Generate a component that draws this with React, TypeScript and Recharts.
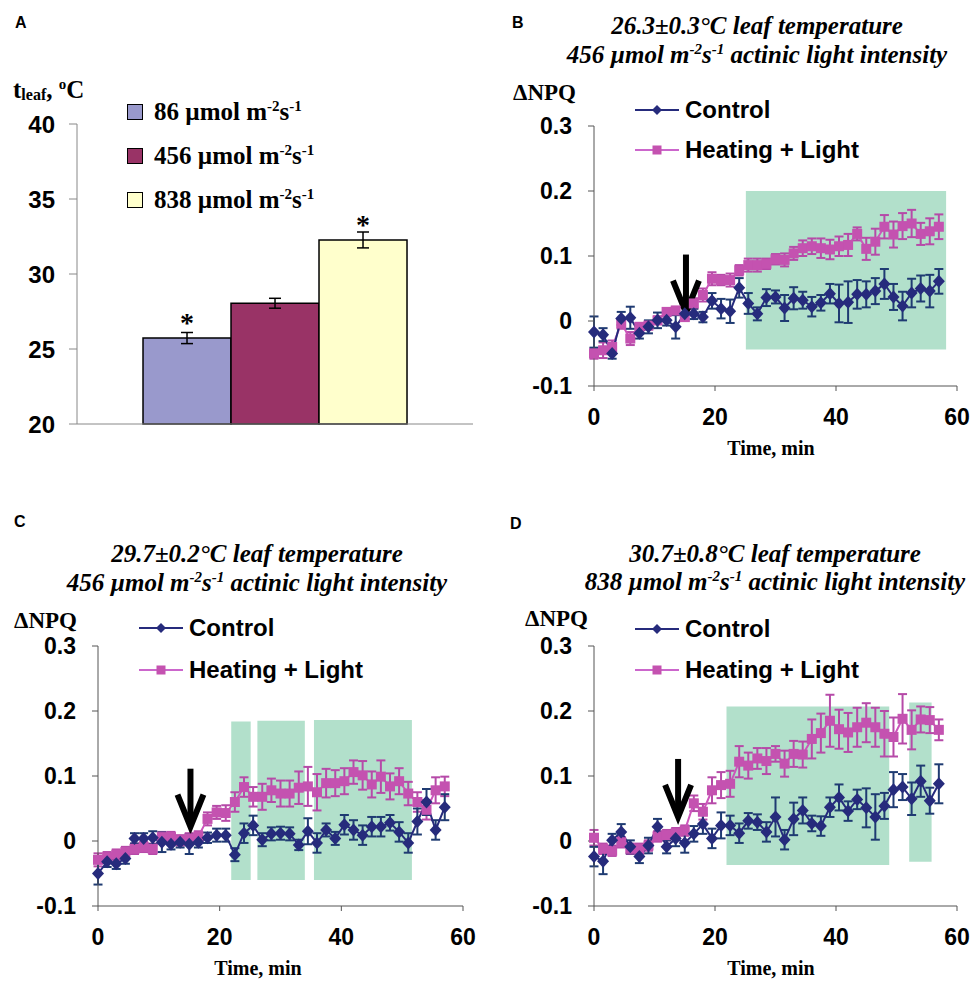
import React from "react";
import {
  BarChart,
  Bar,
  ErrorBar,
  LabelList,
  XAxis,
  YAxis,
  LineChart,
  Line,
  ReferenceArea,
  ReferenceDot,
} from "recharts";

// ---- Panel A: leaf temperature at three light intensities ----
const lightLevels = ["86", "456", "838"];
const leafTemp = [25.73, 28.05, 32.27];
const leafTempErr = [0.37, 0.33, 0.53];
const leafTempMark = ["*", "", "*"];
const tempTicks = [20, 25, 30, 35, 40];

// ---- Panels B-D: ΔNPQ time courses ----
const timeMin = [
  0, 1.5, 3, 4.5, 6, 7.5, 9, 10.5, 12, 13.5, 15, 16.5, 18, 19.5, 21, 22.5, 24, 25.5, 27, 28.5,
  30, 31.5, 33, 34.5, 36, 37.5, 39, 40.5, 42, 43.5, 45, 46.5, 48, 49.5, 51, 52.5, 54, 55.5, 57,
];
const timeTicks = [0, 20, 40, 60];
const npqTicks = [-0.1, 0, 0.1, 0.2, 0.3];

const controlB = [
  -0.017, -0.021, -0.05, 0.004, 0.005, -0.019, -0.009, 0.001, 0.001, -0.009, 0.011, 0.011, 0.006,
  0.031, 0.019, 0.015, 0.051, 0.027, 0.011, 0.036, 0.037, 0.02, 0.035, 0.032, 0.022, 0.028, 0.042,
  0.027, 0.029, 0.041, 0.041, 0.046, 0.057, 0.037, 0.023, 0.043, 0.05, 0.046, 0.061,
];
const controlBErr = [
  0.024, 0.01, 0.008, 0.01, 0.017, 0.008, 0.01, 0.012, 0.008, 0.018, 0.01, 0.008, 0.008, 0.012,
  0.015, 0.018, 0.015, 0.016, 0.01, 0.013, 0.01, 0.02, 0.017, 0.013, 0.015, 0.012, 0.015, 0.029,
  0.032, 0.022, 0.02, 0.02, 0.023, 0.02, 0.022, 0.022, 0.02, 0.025, 0.019,
];
const heatB = [
  -0.05, -0.045, -0.04, -0.004, -0.027, -0.009, -0.007, 0.001, 0.014, 0.016, 0.006, 0.027, 0.04,
  0.065, 0.063, 0.063, 0.078, 0.086, 0.086, 0.088, 0.095, 0.094, 0.104, 0.112, 0.115, 0.112, 0.11,
  0.115, 0.117, 0.134, 0.111, 0.122, 0.145, 0.133, 0.146, 0.15, 0.134, 0.138, 0.145,
];
const heatBErr = [
  0.008, 0.012, 0.01, 0.008, 0.01, 0.006, 0.006, 0.006, 0.006, 0.006, 0.006, 0.008, 0.01, 0.01,
  0.008, 0.01, 0.008, 0.01, 0.01, 0.008, 0.008, 0.01, 0.01, 0.012, 0.012, 0.015, 0.015, 0.015,
  0.017, 0.01, 0.017, 0.02, 0.018, 0.02, 0.02, 0.021, 0.017, 0.02, 0.019,
];

const controlC = [
  -0.05, -0.032, -0.035, -0.027, 0.004, 0.004, 0.005, -0.002, -0.005, -0.002, -0.005, -0.002,
  0.005, 0.009, 0.009, -0.021, 0.012, 0.024, 0.002, 0.011, 0.012, 0.011, -0.006, 0.015, -0.003,
  0.017, 0.004, 0.025, 0.017, 0.009, 0.022, 0.022, 0.028, 0.014, -0.003, 0.03, 0.06, 0.017, 0.052,
];
const controlCErr = [
  0.017, 0.008, 0.008, 0.008, 0.008, 0.008, 0.01, 0.015, 0.008, 0.008, 0.015, 0.008, 0.008, 0.01,
  0.01, 0.01, 0.015, 0.015, 0.01, 0.01, 0.01, 0.01, 0.008, 0.02, 0.015, 0.01, 0.01, 0.015, 0.015,
  0.015, 0.015, 0.015, 0.012, 0.015, 0.015, 0.02, 0.02, 0.015, 0.02,
];
const heatC = [
  -0.029, -0.025, -0.021, -0.017, -0.012, -0.009, -0.012, 0.006, 0.006, 0.001, 0.004, 0.007,
  0.034, 0.044, 0.043, 0.06, 0.083, 0.068, 0.068, 0.078, 0.073, 0.073, 0.082, 0.084, 0.075, 0.089,
  0.089, 0.092, 0.106, 0.101, 0.087, 0.099, 0.084, 0.092, 0.073, 0.06, 0.048, 0.078, 0.084,
];
const heatCErr = [
  0.01, 0.008, 0.008, 0.008, 0.008, 0.008, 0.008, 0.008, 0.008, 0.008, 0.008, 0.008, 0.01, 0.01,
  0.012, 0.015, 0.015, 0.015, 0.02, 0.018, 0.02, 0.02, 0.025, 0.03, 0.028, 0.022, 0.02, 0.02,
  0.018, 0.022, 0.02, 0.025, 0.02, 0.02, 0.018, 0.015, 0.015, 0.02, 0.015,
];

const controlD = [
  -0.024, -0.031, 0.001, 0.014, -0.009, -0.024, -0.007, 0.022, -0.009, 0.004, -0.003, 0.011,
  0.026, 0.004, 0.024, 0.024, 0.012, 0.031, 0.029, 0.014, 0.037, 0.002, 0.034, 0.047, 0.027,
  0.023, 0.052, 0.067, 0.046, 0.064, 0.051, 0.037, 0.054, 0.079, 0.083, 0.065, 0.092, 0.062, 0.088,
];
const controlDErr = [
  0.015, 0.02, 0.01, 0.012, 0.01, 0.01, 0.012, 0.012, 0.01, 0.012, 0.015, 0.012, 0.015, 0.015,
  0.02, 0.015, 0.015, 0.012, 0.012, 0.015, 0.03, 0.015, 0.025, 0.02, 0.012, 0.015, 0.015, 0.02,
  0.015, 0.015, 0.03, 0.035, 0.02, 0.027, 0.02, 0.025, 0.024, 0.02, 0.03,
];
const heatD = [
  0.005, -0.012, -0.015, -0.002, -0.012, -0.012, -0.007, 0.007, 0.009, 0.012, 0.016, 0.058, 0.045,
  0.078, 0.086, 0.088, 0.122, 0.116, 0.127, 0.123, 0.134, 0.119, 0.134, 0.133, 0.157, 0.166,
  0.185, 0.172, 0.167, 0.175, 0.182, 0.175, 0.165, 0.16, 0.188, 0.171, 0.187, 0.186, 0.171,
];
const heatDErr = [
  0.012, 0.008, 0.008, 0.008, 0.008, 0.008, 0.008, 0.008, 0.008, 0.008, 0.008, 0.012, 0.012, 0.02,
  0.02, 0.02, 0.024, 0.02, 0.016, 0.02, 0.012, 0.02, 0.02, 0.02, 0.03, 0.03, 0.04, 0.03, 0.03,
  0.03, 0.03, 0.03, 0.035, 0.03, 0.038, 0.03, 0.02, 0.02, 0.016,
];

// shaded intervals (min) and their ΔNPQ extents
const shadeB = [{ x1: 25.1, x2: 58.2, y1: -0.044, y2: 0.2 }];
const shadeC = [
  { x1: 21.9, x2: 25.1, y1: -0.06, y2: 0.184 },
  { x1: 26.2, x2: 34.0, y1: -0.06, y2: 0.185 },
  { x1: 35.5, x2: 51.6, y1: -0.06, y2: 0.186 },
];
const shadeD = [
  { x1: 21.9, x2: 48.8, y1: -0.037, y2: 0.207 },
  { x1: 52.1, x2: 55.8, y1: -0.032, y2: 0.213 },
];
// arrow: time of heating onset and ΔNPQ at the arrow tip
const arrowB = { t: 15.2, v: 0.013 };
const arrowC = { t: 15.2, v: 0.022 };
const arrowD = { t: 13.9, v: 0.037 };

const SERIF = "'Times New Roman', 'Liberation Serif', serif";
const SANS = "Arial, 'Liberation Sans', sans-serif";
const NAVY = "#262b7c";
const NAVY_ERR = "#1f3b72";
const PINK = "#c452b0";
const PINK_ERR = "#b64aa8";
const GREEN = "#b2e0cb";

function Txt({ x, y, size, family = SANS, italic = false, anchor = "start", children }: any) {
  const tx = anchor === "middle" ? "-50%" : anchor === "end" ? "-100%" : "0";
  return (
    <div
      style={{
        position: "absolute",
        left: x,
        top: y,
        transform: `translate(${tx}, -50%)`,
        fontSize: size,
        fontFamily: family,
        fontWeight: "bold",
        fontStyle: italic ? "italic" : "normal",
        lineHeight: 1,
        whiteSpace: "nowrap",
        color: "#000",
      }}
    >
      {children}
    </div>
  );
}

const Sup = ({ children }: any) => (
  <sup style={{ fontSize: "0.6em", lineHeight: 0, verticalAlign: "0.6em" }}>{children}</sup>
);

const Units = () => (
  <>
    µmol m<Sup>-2</Sup>s<Sup>-1</Sup>
  </>
);

const diamondDot = (p: any) => {
  if (p.cx == null || p.cy == null) return <g key={`d${p.index}`} />;
  return (
    <path
      key={`d${p.index}`}
      d={`M${p.cx},${p.cy - 6.5}L${p.cx + 6},${p.cy}L${p.cx},${p.cy + 6.5}L${p.cx - 6},${p.cy}Z`}
      fill={NAVY}
    />
  );
};

const squareDot = (p: any) => {
  if (p.cx == null || p.cy == null) return <g key={`s${p.index}`} />;
  return <rect key={`s${p.index}`} x={p.cx - 5} y={p.cy - 5} width={10} height={10} fill={PINK} />;
};

const arrowShape = (p: any) => {
  const { cx, cy } = p;
  return (
    <g>
      <line x1={cx} y1={cy - 58} x2={cx} y2={cy - 5} stroke="#000" strokeWidth={6} />
      <polyline
        points={`${cx - 13},${cy - 32} ${cx},${cy} ${cx + 13},${cy - 32}`}
        fill="none"
        stroke="#000"
        strokeWidth={6}
        strokeLinejoin="miter"
      />
    </g>
  );
};

function Legend2({ x, y1, y2 }: any) {
  return (
    <>
      <svg style={{ position: "absolute", left: x, top: y1 - 6 }} width={44} height={12}>
        <line x1={0} y1={6} x2={44} y2={6} stroke={NAVY} strokeWidth={2} />
        <path d="M22,1L27,6L22,11L17,6Z" fill={NAVY} />
      </svg>
      <Txt x={x + 50} y={y1} size={24}>
        Control
      </Txt>
      <svg style={{ position: "absolute", left: x, top: y2 - 6 }} width={44} height={12}>
        <line x1={0} y1={6} x2={44} y2={6} stroke="#cc66cc" strokeWidth={2} />
        <rect x={17.5} y={1.5} width={9} height={9} fill={PINK} />
      </svg>
      <Txt x={x + 50} y={y2} size={24}>
        Heating + Light
      </Txt>
    </>
  );
}

function NpqPanel({ axisX, topY, width, control, controlErr, heat, heatErr, shade, arrow }: any) {
  const data = timeMin.map((t, i) => ({
    t,
    c: control[i],
    ce: controlErr[i],
    h: heat[i],
    he: heatErr[i],
  }));
  const plotH = 260;
  return (
    <div style={{ position: "absolute", left: axisX - 100, top: topY - 30 }}>
      <LineChart
        width={width + 115}
        height={plotH + 90}
        data={data}
        margin={{ top: 30, right: 15, bottom: 0, left: 0 }}
      >
        <XAxis
          type="number"
          dataKey="t"
          domain={[0, 60]}
          ticks={timeTicks}
          interval={0}
          height={60}
          axisLine={{ stroke: "#555" }}
          tickLine={{ stroke: "#555" }}
          tickSize={5}
          tickMargin={18}
          tick={{ fill: "#000", fontSize: 23, fontWeight: "bold", fontFamily: SANS }}
        />
        <YAxis
          type="number"
          domain={[-0.1, 0.3]}
          ticks={npqTicks}
          interval={0}
          width={100}
          axisLine={{ stroke: "#555" }}
          tickLine={{ stroke: "#555" }}
          tickSize={6}
          tickMargin={16}
          tickFormatter={(v: number) => (v === 0 ? "0" : String(v))}
          tick={{ fill: "#000", fontSize: 23, fontWeight: "bold", fontFamily: SANS }}
        />
        {shade.map((s: any, i: number) => (
          <ReferenceArea
            key={i}
            x1={s.x1}
            x2={s.x2}
            y1={s.y1}
            y2={s.y2}
            fill={GREEN}
            fillOpacity={1}
            stroke="none"
          />
        ))}
        <Line
          dataKey="h"
          stroke="#cc55bb"
          strokeWidth={2}
          dot={squareDot}
          activeDot={false}
          isAnimationActive={false}
        >
          <ErrorBar dataKey="he" direction="y" width={4.5} stroke={PINK_ERR} strokeWidth={2} />
        </Line>
        <Line
          dataKey="c"
          stroke={NAVY}
          strokeWidth={2}
          dot={diamondDot}
          activeDot={false}
          isAnimationActive={false}
        >
          <ErrorBar dataKey="ce" direction="y" width={4.5} stroke={NAVY_ERR} strokeWidth={2} />
        </Line>
        <ReferenceDot x={arrow.t} y={arrow.v} shape={arrowShape} />
      </LineChart>
    </div>
  );
}

const barColors = ["#9999cc", "#993366", "#ffffcc"];

export default function App() {
  const barRow: any = { name: "" };
  lightLevels.forEach((lvl, i) => {
    barRow[`t${lvl}`] = leafTemp[i];
    barRow[`e${lvl}`] = leafTempErr[i];
    barRow[`m${lvl}`] = leafTempMark[i];
  });

  return (
    <div style={{ position: "absolute", left: 0, top: 0, width: 971, height: 986, background: "#fff" }}>
      {/* Panel A */}
      <div style={{ position: "absolute", left: 0, top: 0 }}>
        <BarChart
          width={480}
          height={480}
          data={[barRow]}
          margin={{ top: 124, right: 7, bottom: 36, left: 0 }}
          barCategoryGap="16.67%"
          barGap={0}
        >
          <XAxis dataKey="name" height={20} tick={false} tickLine={false} axisLine={{ stroke: "#888" }} />
          <YAxis
            domain={[20, 40]}
            ticks={tempTicks}
            interval={0}
            width={77}
            tickSize={8}
            tickMargin={14}
            axisLine={{ stroke: "#888" }}
            tickLine={{ stroke: "#888" }}
            tick={{ fill: "#000", fontSize: 24, fontWeight: "bold", fontFamily: SANS }}
          />
          {lightLevels.map((lvl, i) => (
            <Bar
              key={lvl}
              dataKey={`t${lvl}`}
              fill={barColors[i]}
              stroke="#000"
              strokeWidth={1.5}
              isAnimationActive={false}
            >
              <ErrorBar dataKey={`e${lvl}`} direction="y" width={6} stroke="#000" strokeWidth={1.5} />
              <LabelList
                dataKey={`m${lvl}`}
                position="top"
                offset={6}
                style={{ fill: "#000", fontSize: 28, fontWeight: "bold", fontFamily: SERIF }}
              />
            </Bar>
          ))}
        </BarChart>
      </div>
      <Txt x={15} y={23} size={16}>A</Txt>
      <Txt x={13} y={90} size={25} family={SERIF}>
        t<span style={{ fontSize: 16, verticalAlign: "-0.15em" }}>leaf</span>, <Sup>o</Sup>C
      </Txt>
      {lightLevels.map((lvl, i) => (
        <React.Fragment key={lvl}>
          <div
            style={{
              position: "absolute",
              left: 127,
              top: 104 + i * 44,
              width: 14,
              height: 14,
              background: barColors[i],
              border: "1px solid #000",
            }}
          />
          <Txt x={154} y={111 + i * 44} size={25} family={SERIF}>
            {lvl} <Units />
          </Txt>
        </React.Fragment>
      ))}

      {/* Panel B */}
      <Txt x={512} y={23} size={16}>B</Txt>
      <Txt x={757} y={25} size={25} family={SERIF} italic anchor="middle">
        26.3±0.3°C leaf temperature
      </Txt>
      <Txt x={757} y={54} size={25} family={SERIF} italic anchor="middle">
        456 <Units /> actinic light intensity
      </Txt>
      <Txt x={513} y={92} size={23} family={SERIF}>ΔNPQ</Txt>
      <NpqPanel
        axisX={594}
        topY={126}
        width={363}
        control={controlB}
        controlErr={controlBErr}
        heat={heatB}
        heatErr={heatBErr}
        shade={shadeB}
        arrow={arrowB}
      />
      <Legend2 x={635} y1={110} y2={150} />
      <Txt x={771} y={448} size={20} family={SERIF} anchor="middle">Time, min</Txt>

      {/* Panel C */}
      <Txt x={14} y={522} size={16}>C</Txt>
      <Txt x={257} y={553} size={25} family={SERIF} italic anchor="middle">
        29.7±0.2°C leaf temperature
      </Txt>
      <Txt x={257} y={582} size={25} family={SERIF} italic anchor="middle">
        456 <Units /> actinic light intensity
      </Txt>
      <Txt x={14} y={620} size={23} family={SERIF}>ΔNPQ</Txt>
      <NpqPanel
        axisX={98}
        topY={646}
        width={365}
        control={controlC}
        controlErr={controlCErr}
        heat={heatC}
        heatErr={heatCErr}
        shade={shadeC}
        arrow={arrowC}
      />
      <Legend2 x={139} y1={628} y2={670} />
      <Txt x={258} y={968} size={20} family={SERIF} anchor="middle">Time, min</Txt>

      {/* Panel D */}
      <Txt x={510} y={524} size={16}>D</Txt>
      <Txt x={775} y={553} size={25} family={SERIF} italic anchor="middle">
        30.7±0.8°C leaf temperature
      </Txt>
      <Txt x={775} y={581} size={25} family={SERIF} italic anchor="middle">
        838 <Units /> actinic light intensity
      </Txt>
      <Txt x={525} y={618} size={23} family={SERIF}>ΔNPQ</Txt>
      <NpqPanel
        axisX={594}
        topY={646}
        width={363}
        control={controlD}
        controlErr={controlDErr}
        heat={heatD}
        heatErr={heatDErr}
        shade={shadeD}
        arrow={arrowD}
      />
      <Legend2 x={635} y1={629} y2={670} />
      <Txt x={771} y={968} size={20} family={SERIF} anchor="middle">Time, min</Txt>
    </div>
  );
}
